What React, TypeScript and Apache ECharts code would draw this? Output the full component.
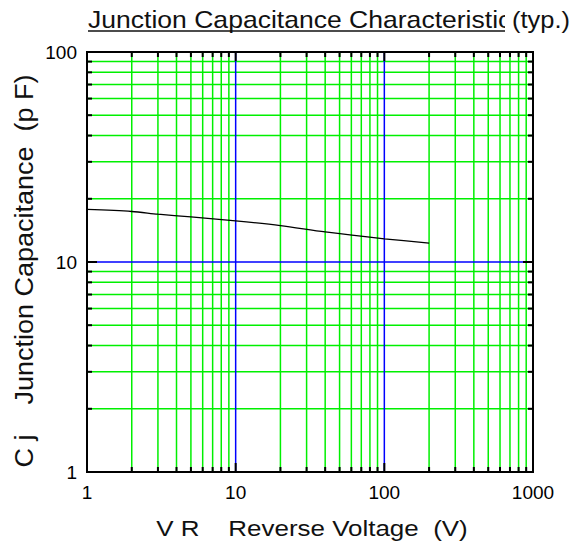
import React, { useEffect, useRef } from "react";
import * as echarts from "echarts";

const VR = [1, 2, 3, 5, 10, 20, 40, 100, 200];
const CJ = [17.8, 17.4, 16.9, 16.4, 15.7, 14.9, 13.9, 12.9, 12.3];
const X_MINOR = [2, 3, 4, 5, 6, 7, 8, 9, 20, 30, 40, 50, 60, 70, 80, 90, 200, 300, 400, 500, 600, 700, 800, 900];
const X_MAJOR = [10, 100];
const Y_MINOR = [2, 3, 4, 5, 6, 7, 8, 9, 20, 30, 40, 50, 60, 70, 80, 90];
const Y_MAJOR = [10];
const X_RANGE = [1, 1000];
const Y_RANGE = [1, 100];
const TITLE = "Junction Capacitance Characteristic";
const TITLE_SUFFIX = "(typ.)";
const X_NAME = "V R    Reverse Voltage  (V)";
const Y_NAME = "C j    Junction Capacitance  (p F)";

const FONT = "'Liberation Sans', Arial, sans-serif";
const GREEN = "#00f000";
const BLUE = "#0000ff";

function vLines(values: number[], color: string, width: number, z: number) {
  return {
    type: "custom",
    coordinateSystem: "cartesian2d",
    silent: true,
    z,
    clip: false,
    data: values.map((v) => [v, Y_RANGE[0]]),
    renderItem: (_p: any, api: any) => {
      const v = api.value(0);
      const a = api.coord([v, Y_RANGE[0]]);
      const b = api.coord([v, Y_RANGE[1]]);
      return {
        type: "line",
        shape: { x1: a[0], y1: a[1] - 1, x2: b[0], y2: b[1] + 1 },
        style: { stroke: color, lineWidth: width },
      };
    },
  };
}

function hLines(values: number[], color: string, width: number, z: number) {
  return {
    type: "custom",
    coordinateSystem: "cartesian2d",
    silent: true,
    z,
    clip: false,
    data: values.map((v) => [X_RANGE[0], v]),
    renderItem: (_p: any, api: any) => {
      const v = api.value(1);
      const a = api.coord([X_RANGE[0], v]);
      const b = api.coord([X_RANGE[1], v]);
      return {
        type: "line",
        shape: { x1: a[0] + 1, y1: a[1], x2: b[0] - 1, y2: b[1] },
        style: { stroke: color, lineWidth: width },
      };
    },
  };
}

function xTicks() {
  const majorSet = new Set(X_MAJOR);
  return {
    type: "custom",
    coordinateSystem: "cartesian2d",
    silent: true,
    z: 5,
    clip: false,
    data: [...X_MINOR, ...X_MAJOR].map((v) => [v, Y_RANGE[0]]),
    renderItem: (_p: any, api: any) => {
      const v = api.value(0);
      const L = majorSet.has(v) ? 9 : 5;
      const a = api.coord([v, Y_RANGE[0]]);
      const b = api.coord([v, Y_RANGE[1]]);
      const st = { stroke: "#000", lineWidth: 2 };
      return {
        type: "group",
        children: [
          { type: "line", shape: { x1: a[0], y1: a[1], x2: a[0], y2: a[1] - L }, style: st },
          { type: "line", shape: { x1: b[0], y1: b[1], x2: b[0], y2: b[1] + L }, style: st },
        ],
      };
    },
  };
}

function yTicks() {
  const majorSet = new Set(Y_MAJOR);
  return {
    type: "custom",
    coordinateSystem: "cartesian2d",
    silent: true,
    z: 5,
    clip: false,
    data: [...Y_MINOR, ...Y_MAJOR].map((v) => [X_RANGE[0], v]),
    renderItem: (_p: any, api: any) => {
      const v = api.value(1);
      const L = majorSet.has(v) ? 10 : 5;
      const a = api.coord([X_RANGE[0], v]);
      const b = api.coord([X_RANGE[1], v]);
      const st = { stroke: "#000", lineWidth: 2 };
      return {
        type: "group",
        children: [
          { type: "line", shape: { x1: a[0], y1: a[1], x2: a[0] + L, y2: a[1] }, style: st },
          { type: "line", shape: { x1: b[0], y1: b[1], x2: b[0] - L, y2: b[1] }, style: st },
        ],
      };
    },
  };
}

export default function App() {
  const ref = useRef<HTMLDivElement>(null);
  useEffect(() => {
    if (!ref.current) return;
    const chart = echarts.init(ref.current, undefined, { renderer: "svg" });
    const labelFmt = (v: number) => String(Math.round(v));
    chart.setOption({
      animation: false,
      backgroundColor: "#fff",
      grid: {
        left: 87,
        top: 52,
        width: 446,
        height: 420,
        show: true,
        borderColor: "#000",
        borderWidth: 2,
        backgroundColor: "transparent",
        containLabel: false,
      },
      xAxis: {
        type: "log",
        logBase: 10,
        min: X_RANGE[0],
        max: X_RANGE[1],
        splitNumber: 3,
        axisLine: { show: false },
        axisTick: { show: false },
        splitLine: { show: false },
        minorTick: { show: false },
        axisLabel: { fontSize: 19, color: "#000", fontFamily: FONT, margin: 11, formatter: labelFmt },
      },
      yAxis: {
        type: "log",
        logBase: 10,
        min: Y_RANGE[0],
        max: Y_RANGE[1],
        splitNumber: 2,
        axisLine: { show: false },
        axisTick: { show: false },
        splitLine: { show: false },
        minorTick: { show: false },
        axisLabel: { fontSize: 19, color: "#000", fontFamily: FONT, margin: 10, formatter: labelFmt },
      },
      series: [
        vLines(X_MINOR, GREEN, 1.5, 1),
        hLines(Y_MINOR, GREEN, 1.5, 1),
        vLines(X_MAJOR, BLUE, 1.5, 2),
        hLines(Y_MAJOR, BLUE, 1.5, 2),
        xTicks(),
        yTicks(),
        {
          type: "line",
          z: 6,
          data: VR.map((v, i) => [v, CJ[i]]),
          symbol: "none",
          smooth: 0.3,
          lineStyle: { color: "#000", width: 1.3 },
        },
      ],
      graphic: [
        {
          type: "text",
          x: 88,
          y: 19.7,
          scaleX: 1.106,
          z: 10,
          style: { text: TITLE, font: `24px ${FONT}`, fill: "#111", verticalAlign: "middle", align: "left" },
        },
        { type: "rect", z: 11, shape: { x: 505, y: 4, width: 6, height: 30 }, style: { fill: "#fff" } },
        { type: "line", z: 12, shape: { x1: 88, y1: 31, x2: 505, y2: 31 }, style: { stroke: "#111", lineWidth: 1.5 } },
        {
          type: "text",
          x: 512,
          y: 19.7,
          scaleX: 1.06,
          z: 12,
          style: { text: TITLE_SUFFIX, font: `24px ${FONT}`, fill: "#111", verticalAlign: "middle", align: "left" },
        },
        {
          type: "text",
          x: 312,
          y: 528.5,
          scaleX: 1.18,
          z: 10,
          style: { text: X_NAME, font: `22px ${FONT}`, fill: "#111", verticalAlign: "middle", align: "center" },
        },
        {
          type: "text",
          x: 24,
          y: 271,
          rotation: Math.PI / 2,
          scaleX: 1.08,
          z: 10,
          style: { text: Y_NAME, font: `25px ${FONT}`, fill: "#111", verticalAlign: "middle", align: "center" },
        },
      ],
    });
    return () => chart.dispose();
  }, []);
  return (
    <div
      ref={ref}
      style={{ position: "fixed", left: 0, top: 0, width: 583, height: 542, background: "#fff" }}
    />
  );
}
